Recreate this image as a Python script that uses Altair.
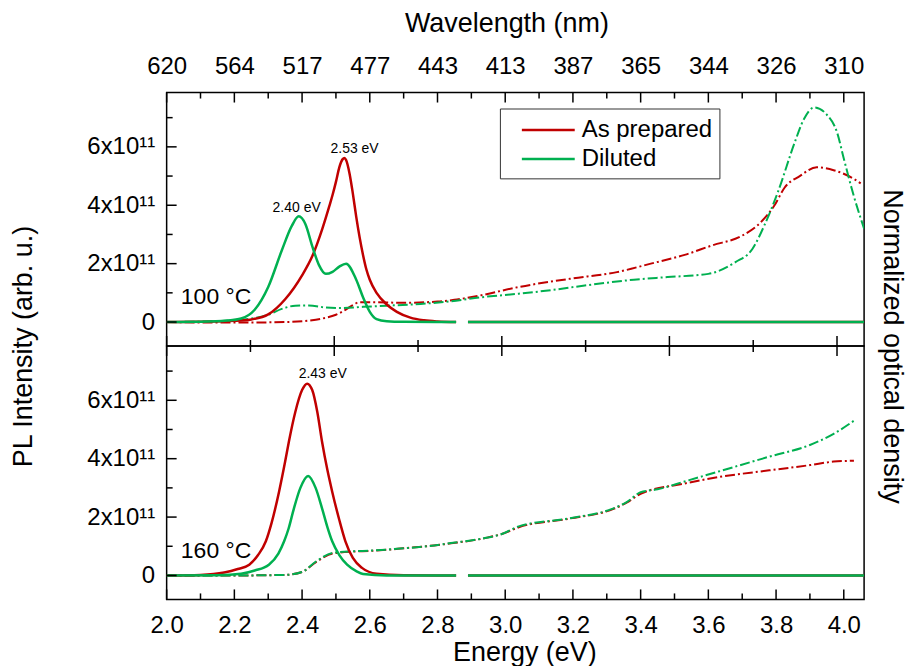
import altair as alt
import pandas as pd

# ---------------- categories / styles ----------------
samples = ["As prepared", "Diluted"]
colors = ["#C00000", "#00B050"]

# ---------------- tick values / labels ----------------
x_major = [2.0, 2.2, 2.4, 2.6, 2.8, 3.0, 3.2, 3.4, 3.6, 3.8, 4.0]
x_minor = [2.1, 2.3, 2.5, 2.7, 2.9, 3.1, 3.3, 3.5, 3.7, 3.9]
wavelength_labels = ["620", "564", "517", "477", "443", "413", "387", "365", "344", "326", "310"]
y_major = [0, 2, 4, 6]
y_minor = [1, 3, 5, 7]
y_labels = ["0", "2x10¹¹", "4x10¹¹", "6x10¹¹"]
mid_major = [2.0, 2.495, 2.99, 3.485, 3.98]
mid_minor = [2.2475, 2.7425, 3.2375, 3.7325]

x_domain = [2.0, 4.06]
y_domain = [-0.82, 7.86]

# ---------------- PL data, 100 C (units of 1e11) ----------------
pl100_prep_E = [2.00, 2.10, 2.20, 2.25, 2.30, 2.35, 2.40, 2.43, 2.46, 2.48, 2.49, 2.50, 2.51, 2.52, 2.525,
                2.53, 2.54, 2.55, 2.56, 2.57, 2.58, 2.59, 2.60, 2.62, 2.65, 2.68, 2.72, 2.76, 2.80, 2.855]
pl100_prep_I = [0.0, 0.01, 0.04, 0.09, 0.26, 0.78, 1.6, 2.25, 3.2, 3.95, 4.35, 4.8, 5.3, 5.58, 5.62,
                5.55, 5.1, 4.4, 3.6, 2.9, 2.3, 1.8, 1.45, 1.0, 0.6, 0.35, 0.15, 0.06, 0.02, 0.0]
pl100_dil_E = [2.00, 2.10, 2.18, 2.22, 2.26, 2.30, 2.34, 2.37, 2.39, 2.41, 2.43, 2.45, 2.47, 2.49,
               2.51, 2.53, 2.56, 2.58, 2.60, 2.62, 2.65, 2.70, 2.855]
pl100_dil_I = [0.0, 0.01, 0.05, 0.12, 0.42, 1.2, 2.45, 3.3, 3.62, 3.35, 2.6, 1.95, 1.65, 1.72,
               1.9, 2.0, 1.45, 0.85, 0.35, 0.1, 0.03, 0.01, 0.0]

# ---------------- PL data, 160 C ----------------
pl160_prep_E = [2.00, 2.10, 2.17, 2.21, 2.244, 2.27, 2.293, 2.31, 2.332, 2.35, 2.361, 2.38, 2.40, 2.415,
                2.43, 2.445, 2.459, 2.475, 2.489, 2.51, 2.528, 2.55, 2.577, 2.62, 2.70, 2.855]
pl160_prep_I = [0.0, 0.02, 0.1, 0.22, 0.37, 0.7, 1.17, 1.8, 2.87, 3.9, 4.58, 5.6, 6.35, 6.57,
                6.35, 5.6, 4.58, 3.6, 2.87, 1.9, 1.17, 0.6, 0.26, 0.06, 0.01, 0.0]
pl160_dil_E = [2.00, 2.15, 2.22, 2.26, 2.302, 2.33, 2.347, 2.36, 2.376, 2.395, 2.418, 2.44, 2.459,
               2.475, 2.489, 2.51, 2.533, 2.56, 2.58, 2.65, 2.855]
pl160_dil_I = [0.0, 0.01, 0.06, 0.17, 0.37, 0.75, 1.17, 1.6, 2.3, 3.0, 3.41, 3.0, 2.3,
               1.65, 1.17, 0.7, 0.37, 0.15, 0.05, 0.0, 0.0]

# flat PL baseline after the gap
flat_E = [2.89, 4.06]
flat_I = [0.0, 0.0]

# ---------------- absorption (normalized optical density), 100 C ----------------
abs100_prep_E = [2.00, 2.20, 2.35, 2.42, 2.46, 2.50, 2.52, 2.55, 2.57, 2.60, 2.70, 2.80, 2.85, 2.93,
                 3.04, 3.19, 3.33, 3.43, 3.53, 3.61, 3.70, 3.755, 3.795, 3.825, 3.87, 3.92, 3.97, 4.03, 4.05]
abs100_prep_I = [0.0, -0.02, 0.0, 0.05, 0.12, 0.25, 0.36, 0.58, 0.68, 0.68, 0.66, 0.7, 0.76, 0.92,
                 1.2, 1.48, 1.71, 2.0, 2.3, 2.62, 2.96, 3.42, 3.99, 4.6, 5.0, 5.3, 5.2, 4.9, 4.75]
abs100_dil_E = [2.00, 2.15, 2.25, 2.30, 2.34, 2.38, 2.42, 2.47, 2.52, 2.58, 2.65, 2.75, 2.84, 2.93,
                3.04, 3.14, 3.235, 3.38, 3.48, 3.60, 3.68, 3.73, 3.765, 3.805, 3.855, 3.88, 3.913, 3.95,
                3.98, 4.00, 4.03, 4.06]
abs100_dil_I = [0.0, 0.03, 0.12, 0.25, 0.45, 0.56, 0.57, 0.5, 0.48, 0.52, 0.56, 0.62, 0.71, 0.85,
                0.97, 1.1, 1.25, 1.45, 1.54, 1.65, 2.05, 2.5, 3.3, 4.44, 6.15, 6.9, 7.35, 7.1,
                6.5, 5.6, 4.3, 3.2]

# ---------------- absorption, 160 C ----------------
abs160_prep_E = [2.00, 2.20, 2.35, 2.40, 2.44, 2.49, 2.55, 2.60, 2.70, 2.79, 2.84, 2.94, 2.99, 3.04,
                 3.19, 3.32, 3.36, 3.40, 3.53, 3.63, 3.78, 3.90, 3.97, 4.03]
abs160_prep_I = [0.0, 0.0, 0.02, 0.12, 0.45, 0.75, 0.82, 0.84, 0.93, 1.03, 1.1, 1.28, 1.42, 1.65,
                 1.95, 2.28, 2.5, 2.8, 3.15, 3.37, 3.6, 3.78, 3.9, 3.93]
abs160_dil_E = [2.00, 2.20, 2.35, 2.40, 2.44, 2.49, 2.55, 2.60, 2.70, 2.79, 2.84, 2.94, 2.99, 3.04,
                3.19, 3.32, 3.36, 3.40, 3.45, 3.53, 3.63, 3.78, 3.90, 3.97, 4.03]
abs160_dil_I = [0.0, 0.0, 0.02, 0.12, 0.47, 0.77, 0.83, 0.85, 0.93, 1.03, 1.11, 1.28, 1.42, 1.68,
                1.96, 2.3, 2.52, 2.85, 2.95, 3.22, 3.56, 4.07, 4.47, 4.85, 5.3]

# ---------------- annotations ----------------
peak_top_E = [2.555, 2.384]
peak_top_I = [5.92, 3.91]
peak_top_text = ["2.53 eV", "2.40 eV"]
peak_bot_E = [2.461]
peak_bot_I = [6.89]
peak_bot_text = ["2.43 eV"]
temp_E = [2.042]
temp_top_I = [0.85]
temp_bot_I = [0.83]
temp_top_text = ["100 °C"]
temp_bot_text = ["160 °C"]

W = 699
H = 254
FONT = "Liberation Sans"
X_PER_PX = (x_domain[1] - x_domain[0]) / W
Y_PER_PX = (y_domain[1] - y_domain[0]) / H


def curve(E, I, sample, seg=0):
    return pd.DataFrame({"E": E, "I": I, "sample": sample, "seg": seg})


def labels_df(E, I, txt):
    return pd.DataFrame({"E": E, "I": I, "txt": txt})


xs = alt.Scale(domain=x_domain, nice=False, zero=False)
ys = alt.Scale(domain=y_domain, nice=False, zero=False)
cs = alt.Scale(domain=samples, range=colors)

wl_expr = "[" + ",".join("'%s'" % s for s in wavelength_labels) + "][round((datum.value-2.0)/0.2)]"
y_expr = "[" + ",".join("'%s'" % s for s in y_labels) + "][round(datum.value/2)]"


def tick_lines(rows):
    df = pd.DataFrame(rows, columns=["E", "I", "k"])
    return alt.Chart(df).mark_line(color="black", strokeWidth=1.5).encode(
        x=alt.X("E:Q", scale=xs, axis=None),
        y=alt.Y("I:Q", scale=ys, axis=None),
        detail="k:N")


def xticks(vals, at_top, px):
    # inward tick segments on the top or bottom frame edge
    if at_top:
        y0 = y_domain[1]
        y1 = y0 - px * Y_PER_PX
    else:
        y0 = y_domain[0]
        y1 = y0 + px * Y_PER_PX
    rows = []
    for k, v in enumerate(vals):
        rows.append((v, y0, k))
        rows.append((v, y1, k))
    return tick_lines(rows)


def yticks(vals, px):
    # inward tick segments on the left frame edge
    x0 = x_domain[0]
    x1 = x0 + px * X_PER_PX
    rows = []
    for k, v in enumerate(vals):
        rows.append((x0, v, k))
        rows.append((x1, v, k))
    return tick_lines(rows)


legend = alt.Legend(orient="none", legendX=334, legendY=16, title=None, symbolType="M-2,0H2",
                    symbolSize=702, symbolStrokeWidth=2.5, labelFontSize=24, labelFont=FONT,
                    labelColor="black", strokeColor="#333333", fillColor="white", padding=7,
                    rowPadding=2, labelOffset=19, symbolOffset=27, symbolDash=[1, 0])


def panel(pl_df, abs_df, peaks_df, temp_df, top):
    if top:
        x_lab = alt.Axis(orient="top", values=x_major, labelExpr=wl_expr, ticks=False, domain=False,
                         grid=False, labelPadding=14, labelFlush=False, labelOverlap=False,
                         title="Wavelength (nm)", titleX=W / 2 - 9, titleY=-61,
                         titleBaseline="alphabetic")
        y_lab = alt.Axis(orient="left", values=y_major, labelExpr=y_expr, ticks=False, domain=False,
                         grid=False, labelPadding=12, title="PL Intensity (arb. u.)", titleY=H,
                         titlePadding=49)
        y_extra = alt.Axis(orient="right", labels=False, ticks=False, domain=False, grid=False,
                           title="Normalized optical density", titleY=H, titlePadding=13,
                           titleAngle=90, titleFontSize=27)
        color_enc = alt.Color("sample:N", scale=cs, legend=legend)
        edge = [xticks(x_major, True, 10), xticks(x_minor, True, 6),
                xticks(mid_major, False, 10), xticks(mid_minor, False, 6)]
    else:
        x_lab = alt.Axis(orient="bottom", values=x_major, format=".1f", ticks=False, domain=False,
                         grid=False, labelPadding=14, labelFlush=False, labelOverlap=False,
                         title="Energy (eV)", titleX=W / 2 + 9, titleY=61, titleBaseline="alphabetic")
        y_lab = alt.Axis(orient="left", values=y_major, labelExpr=y_expr, ticks=False, domain=False,
                         grid=False, labelPadding=12, title=None)
        y_extra = None
        color_enc = alt.Color("sample:N", scale=cs, legend=None)
        edge = [xticks(x_major, False, 10), xticks(x_minor, False, 6),
                xticks(mid_major, True, 10), xticks(mid_minor, True, 6)]
    edge += [yticks(y_major, 10), yticks(y_minor, 6)]

    abs_layer = alt.Chart(abs_df).mark_line(strokeWidth=2, strokeDash=[10, 3, 2, 3], clip=True,
                                            interpolate="monotone").encode(
        x=alt.X("E:Q", scale=xs, axis=x_lab),
        y=alt.Y("I:Q", scale=ys, axis=y_lab),
        color=color_enc,
    )
    pl_layer = alt.Chart(pl_df).mark_line(strokeWidth=2.5, clip=True, interpolate="monotone").encode(
        x=alt.X("E:Q", scale=xs, axis=None),
        y=alt.Y("I:Q", scale=ys, axis=None),
        color=color_enc,
        detail="seg:N",
    )
    peak_layer = alt.Chart(peaks_df).mark_text(font=FONT, fontSize=14, color="black").encode(
        x=alt.X("E:Q", scale=xs, axis=None),
        y=alt.Y("I:Q", scale=ys, axis=None),
        text="txt:N",
    )
    if y_extra is not None:
        ty = alt.Y("I:Q", scale=ys, axis=y_extra)
    else:
        ty = alt.Y("I:Q", scale=ys, axis=None)
    temp_layer = alt.Chart(temp_df).mark_text(font=FONT, fontSize=23, color="black",
                                              align="left").encode(
        x=alt.X("E:Q", scale=xs, axis=None),
        y=ty,
        text="txt:N",
    )
    return alt.layer(abs_layer, pl_layer, peak_layer, temp_layer, *edge).resolve_axis(
        x="independent", y="independent").properties(width=W, height=H)


pl_top = pd.concat([
    curve(pl100_prep_E, pl100_prep_I, samples[0], 0), curve(flat_E, flat_I, samples[0], 1),
    curve(pl100_dil_E, pl100_dil_I, samples[1], 0), curve(flat_E, flat_I, samples[1], 1)])
abs_top = pd.concat([curve(abs100_prep_E, abs100_prep_I, samples[0]),
                     curve(abs100_dil_E, abs100_dil_I, samples[1])])
pl_bot = pd.concat([
    curve(pl160_prep_E, pl160_prep_I, samples[0], 0), curve(flat_E, flat_I, samples[0], 1),
    curve(pl160_dil_E, pl160_dil_I, samples[1], 0), curve(flat_E, flat_I, samples[1], 1)])
abs_bot = pd.concat([curve(abs160_prep_E, abs160_prep_I, samples[0]),
                     curve(abs160_dil_E, abs160_dil_I, samples[1])])

top = panel(pl_top, abs_top, labels_df(peak_top_E, peak_top_I, peak_top_text),
            labels_df(temp_E, temp_top_I, temp_top_text), True)
bottom = panel(pl_bot, abs_bot, labels_df(peak_bot_E, peak_bot_I, peak_bot_text),
               labels_df(temp_E, temp_bot_I, temp_bot_text), False)

chart = alt.vconcat(top, bottom, spacing=0, bounds="flush").resolve_scale(color="independent").properties(
    padding={"left": 1, "top": 0, "right": 0, "bottom": 0}
).configure_axis(
    labelFont=FONT, titleFont=FONT, labelFontSize=24, titleFontSize=27,
    labelColor="black", titleColor="black", titleFontWeight="normal"
).configure_view(stroke="black", strokeWidth=1.5)

chart.save("out.html", embed_options={"renderer": "svg", "actions": False})
